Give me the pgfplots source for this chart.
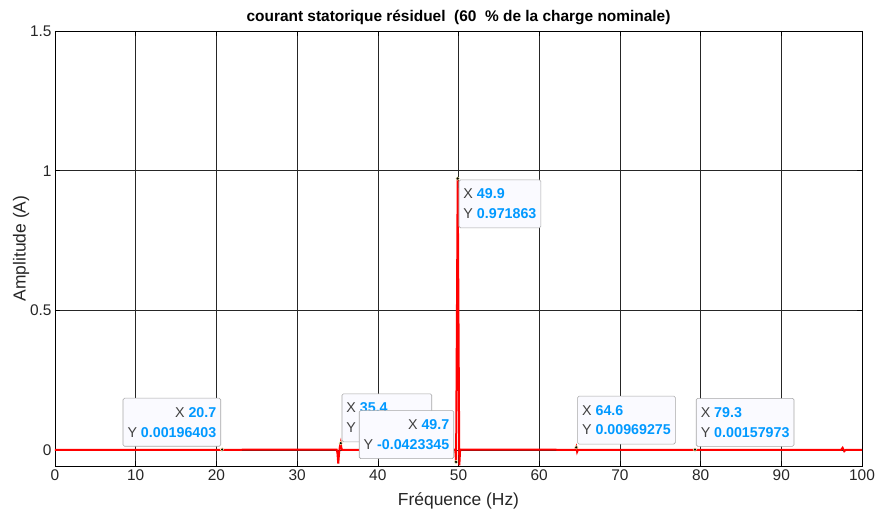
\documentclass[border=0pt]{standalone}
\usepackage{fontspec}
\setmainfont{Liberation Sans}
\usepackage{pgfplots}
\pgfplotsset{compat=1.18}
\definecolor{tipblue}{RGB}{0,153,255}
\definecolor{tipgray}{RGB}{64,64,64}
\definecolor{tipfill}{RGB}{250,250,255}
\tikzset{tip/.style={draw=black!35, fill=tipfill, rounded corners=1.5bp, line width=0.6bp,
    font=\fontsize{14.3}{20}\selectfont, inner xsep=4.5bp, inner ysep=9bp}}
\begin{document}
\begin{tikzpicture}
\begin{axis}[
  scale only axis, width=807bp, height=435bp,
  xmin=0, xmax=100, ymin=-0.057, ymax=1.5,
  xtick={0,10,...,100}, ytick={0,0.5,1,1.5},
  yticklabels={0,0.5,1,1.5},
  grid=major, major grid style={black!85, line width=0.6bp},
  tick style={black, line width=0.5bp}, tick align=inside, major tick length=5bp,
  axis line style={black, line width=0.6bp},
  ticklabel style={font=\fontsize{15.5}{17}\selectfont, text=black!85},
  /pgf/number format/assume math mode=true,
  title={courant statorique résiduel \ (60 \ \% de la charge nominale)},
  title style={font=\bfseries\fontsize{15.5}{17}\selectfont, yshift=-3bp},
  xlabel={Fréquence (Hz)}, ylabel={Amplitude (A)},
  label style={font=\fontsize{17.5}{19}\selectfont, text=black!85},
  xlabel style={yshift=-5bp},
  ylabel style={yshift=-6bp},
]
\addplot[red, line width=2bp] coordinates {
(0,0.001) (10,0.001) (20.6,0.001) (20.7,0.00196403) (20.8,0.001)
(34.9,0.002) (35.0,-0.01) (35.1,-0.048) (35.2,-0.01) (35.3,0.012) (35.4,0.0248) (35.5,0.005) (35.6,0.001)
(49.5,0.002) (49.6,0.001) (49.7,-0.0423345) (49.8,0.45) (49.9,0.971863) (50.0,0.45) (50.1,-0.055) (50.2,0.002)
(64.5,0.001) (64.6,0.00969275) (64.7,-0.006) (64.8,0.001)
(79.2,0.001) (79.3,0.00157973) (79.4,0.001)
(97.4,0.001) (97.6,0.008) (97.8,-0.004) (98.0,0.001) (100,0.001)
};
\node[tip, anchor=south west, xshift=1bp, yshift=1bp, align=left] at (axis cs:35.4,0.0248)
  {{\color{tipgray}X} {\bfseries\color{tipblue}35.4}\\{\color{tipgray}Y} {\bfseries\color{tipblue}0.0248312}};
\node[tip, anchor=south east, xshift=-1bp, yshift=3bp, align=right] at (axis cs:20.7,0.00196403)
  {{\color{tipgray}X} {\bfseries\color{tipblue}20.7}\\{\color{tipgray}Y} {\bfseries\color{tipblue}0.00196403}};
\node[tip, anchor=south east, xshift=-2bp, yshift=3bp, align=right] at (axis cs:49.7,-0.0423345)
  {{\color{tipgray}X} {\bfseries\color{tipblue}49.7}\\{\color{tipgray}Y} {\bfseries\color{tipblue}-0.0423345}};
\node[tip, anchor=north west, xshift=1bp, yshift=-1bp, align=left] at (axis cs:49.9,0.971863)
  {{\color{tipgray}X} {\bfseries\color{tipblue}49.9}\\{\color{tipgray}Y} {\bfseries\color{tipblue}0.971863}};
\node[tip, anchor=south west, xshift=1bp, yshift=3bp, align=left] at (axis cs:64.6,0.00969275)
  {{\color{tipgray}X} {\bfseries\color{tipblue}64.6}\\{\color{tipgray}Y} {\bfseries\color{tipblue}0.00969275}};
\node[tip, anchor=south west, xshift=1bp, yshift=3bp, align=left] at (axis cs:79.3,0.00157973)
  {{\color{tipgray}X} {\bfseries\color{tipblue}79.3}\\{\color{tipgray}Y} {\bfseries\color{tipblue}0.00157973}};
\addplot[only marks, mark=*, mark size=1.8bp, mark options={fill=black, draw=yellow!30!white, line width=0.4bp}] coordinates {
(20.7,0.00196403) (35.4,0.0248) (49.7,-0.0423345) (49.9,0.971863) (64.6,0.00969275) (79.3,0.00157973)
};
\end{axis}
\path (current axis.south west) ++(-55bp,-51bp) coordinate (bbA);
\path (current axis.north east) ++(13bp,31bp) coordinate (bbB);
\pgfresetboundingbox
\path[use as bounding box] (bbA) rectangle (bbB);
\end{tikzpicture}
\end{document}
